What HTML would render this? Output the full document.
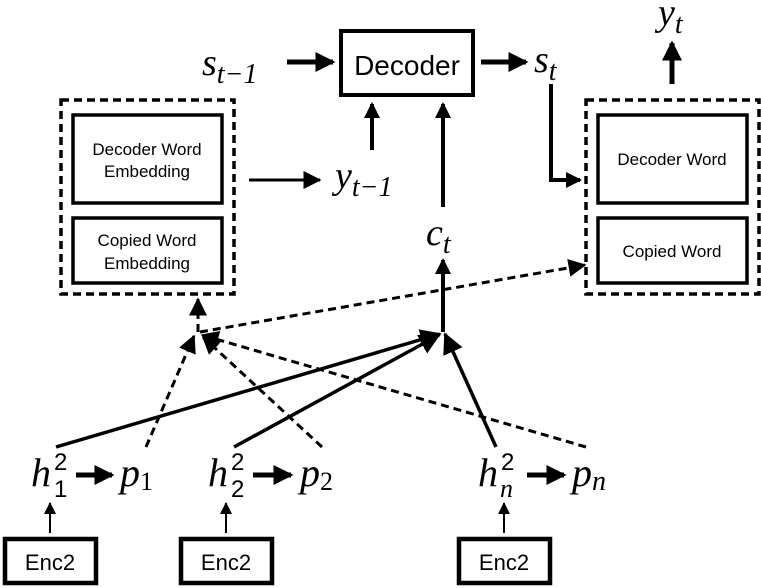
<!DOCTYPE html>
<html><head><meta charset="utf-8"><style>
html,body{margin:0;padding:0;background:#fff;}
svg{display:block}
.m{font-family:"Liberation Serif",serif;font-style:italic;}
.s{font-family:"Liberation Sans",sans-serif;}
</style></head><body>
<svg width="761" height="588" viewBox="0 0 761 588" xmlns="http://www.w3.org/2000/svg">
<defs>
<marker id="a" markerWidth="4" markerHeight="4" refX="3.5" refY="2" orient="auto" markerUnits="strokeWidth"><path d="M0,0 L4,2 L0,4 z" fill="#000"/></marker>
<marker id="b" markerWidth="6" markerHeight="6" refX="5.5" refY="3" orient="auto" markerUnits="strokeWidth"><path d="M0,0 L6,3 L0,6 z" fill="#000"/></marker>
</defs>
<rect x="341" y="31" width="132" height="64" fill="none" stroke="#000" stroke-width="4"/>
<text x="407" y="75" class="s" font-size="28" text-anchor="middle">Decoder</text>
<text x="202" y="75" class="m" font-size="38">s<tspan font-size="28" dy="8">t−1</tspan></text>
<line x1="287" y1="62" x2="333" y2="62" stroke="#000" stroke-width="5" marker-end="url(#a)"/>
<line x1="481" y1="62" x2="526" y2="62" stroke="#000" stroke-width="5" marker-end="url(#a)"/>
<text x="534" y="72" class="m" font-size="38">s<tspan font-size="28" dy="8">t</tspan></text>
<text x="658" y="25" class="m" font-size="38">y<tspan font-size="28" dy="8">t</tspan></text>
<line x1="672" y1="84" x2="672" y2="43" stroke="#000" stroke-width="5" marker-end="url(#a)"/>
<rect x="61" y="100" width="173" height="194" fill="none" stroke="#000" stroke-width="3.5" stroke-dasharray="8,5"/>
<rect x="73" y="115" width="149" height="88" fill="none" stroke="#000" stroke-width="3.5"/>
<text x="147" y="155" class="s" font-size="17" text-anchor="middle">Decoder Word</text>
<text x="147" y="177" class="s" font-size="17" text-anchor="middle">Embedding</text>
<rect x="73" y="218" width="149" height="65" fill="none" stroke="#000" stroke-width="3.5"/>
<text x="147" y="246" class="s" font-size="17" text-anchor="middle">Copied Word</text>
<text x="147" y="269" class="s" font-size="17" text-anchor="middle">Embedding</text>
<rect x="586" y="100" width="173" height="194" fill="none" stroke="#000" stroke-width="3.5" stroke-dasharray="8,5"/>
<rect x="598" y="115" width="149" height="88" fill="none" stroke="#000" stroke-width="3.5"/>
<text x="672" y="165" class="s" font-size="17" text-anchor="middle">Decoder Word</text>
<rect x="598" y="218" width="149" height="65" fill="none" stroke="#000" stroke-width="3.5"/>
<text x="672" y="257" class="s" font-size="17" text-anchor="middle">Copied Word</text>
<line x1="249" y1="180" x2="320" y2="180" stroke="#000" stroke-width="3" marker-end="url(#b)"/>
<text x="335" y="188" class="m" font-size="38">y<tspan font-size="28" dy="8">t−1</tspan></text>
<line x1="372" y1="150" x2="372" y2="104" stroke="#000" stroke-width="4" marker-end="url(#a)"/>
<line x1="443" y1="207" x2="443" y2="104" stroke="#000" stroke-width="4" marker-end="url(#a)"/>
<text x="426" y="245" class="m" font-size="38">c<tspan font-size="28" dy="8">t</tspan></text>
<polyline points="551,84 551,180 580,180" fill="none" stroke="#000" stroke-width="4" marker-end="url(#a)"/>
<line x1="443" y1="332" x2="443" y2="260" stroke="#000" stroke-width="4" marker-end="url(#a)"/>
<line x1="200" y1="332" x2="585" y2="265" stroke="#000" stroke-width="3" stroke-dasharray="8,5" marker-end="url(#b)"/>
<line x1="198" y1="332" x2="198" y2="299" stroke="#000" stroke-width="3" stroke-dasharray="8,5" marker-end="url(#b)"/>
<line x1="56" y1="447" x2="440" y2="334" stroke="#000" stroke-width="3.5" marker-end="url(#b)"/>
<line x1="234" y1="447" x2="439" y2="335" stroke="#000" stroke-width="3.5" marker-end="url(#b)"/>
<line x1="496" y1="447" x2="445" y2="334" stroke="#000" stroke-width="3.5" marker-end="url(#b)"/>
<line x1="146" y1="447" x2="194" y2="336" stroke="#000" stroke-width="3" stroke-dasharray="8,5" marker-end="url(#b)"/>
<line x1="322" y1="447" x2="203" y2="337" stroke="#000" stroke-width="3" stroke-dasharray="8,5" marker-end="url(#b)"/>
<line x1="586" y1="447" x2="202" y2="335" stroke="#000" stroke-width="3" stroke-dasharray="8,5" marker-end="url(#b)"/>
<text x="31" y="486" class="m" font-size="40">h</text>
<text x="54" y="470" class="s" font-size="24">2</text>
<text x="54" y="497" class="s" font-size="24">1</text>
<line x1="76" y1="475" x2="112" y2="475" stroke="#000" stroke-width="5" marker-end="url(#a)"/>
<text x="120" y="486" class="m" font-size="40">p<tspan font-style="normal" font-size="26" dy="4">1</tspan></text>
<text x="208" y="486" class="m" font-size="40">h</text>
<text x="231" y="470" class="s" font-size="24">2</text>
<text x="231" y="497" class="s" font-size="24">2</text>
<line x1="253" y1="475" x2="291" y2="475" stroke="#000" stroke-width="5" marker-end="url(#a)"/>
<text x="300" y="486" class="m" font-size="40">p<tspan font-style="normal" font-size="26" dy="4">2</tspan></text>
<text x="478" y="486" class="m" font-size="40">h</text>
<text x="501" y="470" class="s" font-size="24">2</text>
<text x="500" y="497" class="m" font-size="26">n</text>
<line x1="527" y1="475" x2="564" y2="475" stroke="#000" stroke-width="5" marker-end="url(#a)"/>
<text x="572" y="486" class="m" font-size="40">p<tspan font-size="28" dy="4">n</tspan></text>
<line x1="50" y1="533" x2="50" y2="503" stroke="#000" stroke-width="2" marker-end="url(#b)"/>
<line x1="226" y1="533" x2="226" y2="503" stroke="#000" stroke-width="2" marker-end="url(#b)"/>
<line x1="504" y1="533" x2="504" y2="503" stroke="#000" stroke-width="2" marker-end="url(#b)"/>
<rect x="5" y="539" width="91" height="44" fill="none" stroke="#000" stroke-width="4.5"/>
<text x="50" y="570" class="s" font-size="22" text-anchor="middle">Enc2</text>
<rect x="181" y="539" width="91" height="44" fill="none" stroke="#000" stroke-width="4.5"/>
<text x="226" y="570" class="s" font-size="22" text-anchor="middle">Enc2</text>
<rect x="459" y="539" width="91" height="44" fill="none" stroke="#000" stroke-width="4.5"/>
<text x="504" y="570" class="s" font-size="22" text-anchor="middle">Enc2</text>
</svg>
</body></html>
